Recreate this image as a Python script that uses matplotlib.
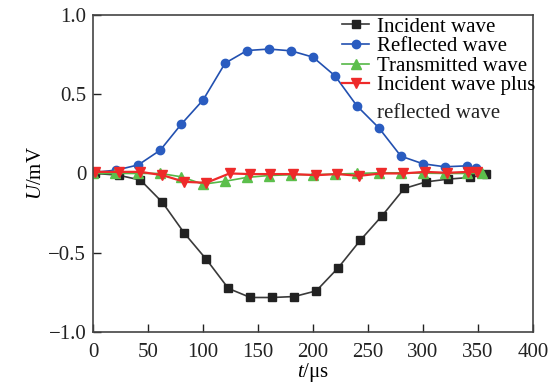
import matplotlib
matplotlib.use("Agg")
import matplotlib.pyplot as plt
from matplotlib.ticker import FixedLocator, FixedFormatter

plt.rcParams['font.family'] = ['Liberation Serif', 'DejaVu Serif']
plt.rcParams['mathtext.fontset'] = 'custom'
plt.rcParams['mathtext.rm'] = 'Liberation Serif'
plt.rcParams['mathtext.it'] = 'Liberation Serif:italic'

t_inc = [2, 23, 43, 63, 83, 103, 123, 143, 163, 183, 203, 223, 243, 263, 283, 303, 323, 343, 357]
u_inc = [0.0, -0.011, -0.042, -0.183, -0.378, -0.543, -0.726, -0.783, -0.783, -0.777, -0.741,
         -0.595, -0.422, -0.266, -0.095, -0.053, -0.036, -0.025, -0.006]

t_ref = [0, 21, 41, 61, 80, 100, 120, 140, 160, 180, 200, 220, 240, 260, 280, 300, 320, 340, 348]
u_ref = [0.006, 0.021, 0.054, 0.147, 0.31, 0.464, 0.696, 0.776, 0.785, 0.774, 0.734,
         0.616, 0.426, 0.287, 0.109, 0.061, 0.042, 0.048, 0.032]

t_tra = [0, 20, 41, 61, 80, 100, 120, 140, 160, 180, 200, 220, 240, 260, 280, 300, 320, 340, 354]
u_tra = [0.0, 0.0, 0.0, 0.0, -0.021, -0.068, -0.049, -0.025, -0.013, -0.008, -0.008,
         -0.004, 0.0, 0.004, 0.004, 0.002, 0.0, 0.0, 0.0]

t_sum = [2, 23, 43, 63, 83, 103, 124, 143, 161, 182, 203, 222, 242, 262, 282, 302, 322, 341, 349]
u_sum = [0.01, 0.01, 0.01, -0.011, -0.053, -0.059, 0.0, -0.004, -0.004, -0.004, -0.011,
         -0.004, -0.015, 0.0, 0.0, 0.01, 0.004, 0.01, 0.01]

labels = ['Incident wave', 'Reflected wave', 'Transmitted wave', 'Incident wave plus']
label_cont = 'reflected wave'

x_ticks = [0, 50, 100, 150, 200, 250, 300, 350, 400]
y_ticks = [-1.0, -0.5, 0, 0.5, 1.0]
y_tick_labels = ['\u22121.0', '\u22120.5', '0', '0.5', '1.0']

fig = plt.figure(figsize=(5.55, 3.85), dpi=100)
ax = fig.add_axes([0.168, 0.138, 0.792, 0.823])

ax.plot(t_inc, u_inc, color='#3a3a3a', lw=1.2, marker='s', ms=5.5, mfc='#222222', mec='#222222', label=labels[0])
ax.plot(t_ref, u_ref, color='#2250b0', lw=1.2, marker='o', ms=6, mfc='#2a5cc0', mec='#2a5cc0', label=labels[1])
ax.plot(t_tra, u_tra, color='#55b847', lw=1.2, marker='^', ms=6.5, mfc='#5cbf4c', mec='#5cbf4c', label=labels[2])
ax.plot(t_sum, u_sum, color='#ee2a2a', lw=1.6, marker='v', ms=6.5, mfc='#ee2a2a', mec='#ee2a2a', label=labels[3])

ax.set_xlim(0, 400)
ax.set_ylim(-1.0, 1.0)
ax.xaxis.set_major_locator(FixedLocator(x_ticks))
ax.yaxis.set_major_locator(FixedLocator(y_ticks))
ax.yaxis.set_major_formatter(FixedFormatter(y_tick_labels))
ax.tick_params(direction='in', length=6, width=1, labelsize=15, colors='#222222')
ax.tick_params(axis='x', pad=8)
ax.tick_params(axis='y', pad=5)
for s in ax.spines.values():
    s.set_color('#444444')
    s.set_linewidth(1.2)

ax.set_xlabel('$t$/\u03bcs', fontsize=15, labelpad=-1)
ax.set_ylabel('$U$/mV', fontsize=15, labelpad=2)

leg = ax.legend(loc='upper right', frameon=False, fontsize=15, handlelength=1.3,
                handletextpad=0.35, labelspacing=0.0, borderaxespad=0.0,
                borderpad=0.1, bbox_to_anchor=(1.01, 1.0))

fig.canvas.draw()
bb = leg.get_texts()[3].get_window_extent()
x0, y0 = fig.transFigure.inverted().transform((bb.x0, bb.y0 - 9))
fig.text(x0, y0, label_cont, fontsize=15, ha='left', va='top', color='#222222')

fig.savefig('out.png', dpi=100)
